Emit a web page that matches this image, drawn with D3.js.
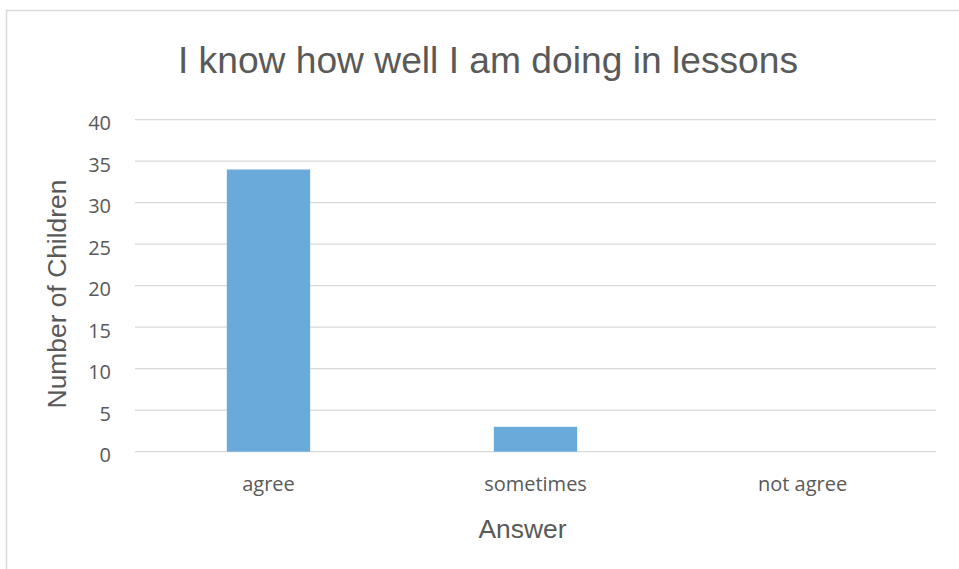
<!DOCTYPE html>
<html>
<head>
<meta charset="utf-8">
<script src="https://cdn.jsdelivr.net/npm/d3@7"></script>
<style>
  html, body { margin: 0; padding: 0; background: #fff; }
  svg { display: block; }
</style>
</head>
<body>
<svg id="chart" width="959" height="569"></svg>
<script>
const categories = ["agree", "sometimes", "not agree"];
const values = [34, 3, 0];
const yTicks = [0, 5, 10, 15, 20, 25, 30, 35, 40];
const titleText = "I know how well I am doing in lessons";
const xTitle = "Answer";
const yTitle = "Number of Children";

const W = 959, H = 569;
const svg = d3.select("#chart");
const plot = { left: 135, right: 936, top: 119.7, bottom: 451.7 };
const textColor = "#595959";
const gridColor = "#d9d9d9";
const barColor = "#6aaadb";

// chart border
svg.append("rect")
  .attr("x", 6.5).attr("y", 10.5)
  .attr("width", W + 20).attr("height", H + 20)
  .attr("fill", "#fff").attr("stroke", "#d9d9d9").attr("stroke-width", 1.5);

const x = d3.scaleBand().domain(categories)
  .range([plot.left, plot.right]).paddingInner(0.688).paddingOuter(0.344);
const y = d3.scaleLinear().domain([0, 40]).range([plot.bottom, plot.top]);

// gridlines
svg.append("g").selectAll("line").data(yTicks).join("line")
  .attr("x1", plot.left).attr("x2", plot.right)
  .attr("y1", d => y(d)).attr("y2", d => y(d))
  .attr("stroke", gridColor).attr("stroke-width", 1.3);

// y axis labels
const yAxis = d3.axisLeft(y).tickValues(yTicks).tickSize(0).tickPadding(0);
const yg = svg.append("g").attr("transform", `translate(111,0)`).call(yAxis);
yg.select(".domain").remove();
yg.selectAll("text")
  .attr("font-family", "'Open Sans', sans-serif").attr("font-size", 20)
  .attr("fill", textColor).attr("dy", "0.5em");

// bars
svg.append("g").selectAll("rect").data(values).join("rect")
  .attr("x", (d, i) => x(categories[i]))
  .attr("width", x.bandwidth())
  .attr("y", d => y(d))
  .attr("height", d => y(0) - y(d))
  .attr("fill", barColor);

// x axis labels
const xAxis = d3.axisBottom(x).tickSize(0).tickPadding(0);
const xg = svg.append("g").attr("transform", `translate(0,${plot.bottom})`).call(xAxis);
xg.select(".domain").remove();
xg.selectAll("text")
  .attr("font-family", "'Open Sans', sans-serif").attr("font-size", 20)
  .attr("fill", textColor).attr("y", 0).attr("dy", 39.5);

// title
svg.append("text").attr("x", 488).attr("y", 73)
  .attr("text-anchor", "middle")
  .attr("font-family", "'Liberation Sans', Arial, sans-serif")
  .attr("font-size", 37.2).attr("fill", textColor).text(titleText);

// x axis title
svg.append("text").attr("x", 522.5).attr("y", 538)
  .attr("text-anchor", "middle")
  .attr("font-family", "'Liberation Sans', Arial, sans-serif")
  .attr("font-size", 26.4).attr("fill", textColor).text(xTitle);

// y axis title
svg.append("text")
  .attr("transform", "translate(66,294) rotate(-90)")
  .attr("text-anchor", "middle")
  .attr("font-family", "'Liberation Sans', Arial, sans-serif")
  .attr("font-size", 26.4).attr("fill", textColor).text(yTitle);
</script>
</body>
</html>
